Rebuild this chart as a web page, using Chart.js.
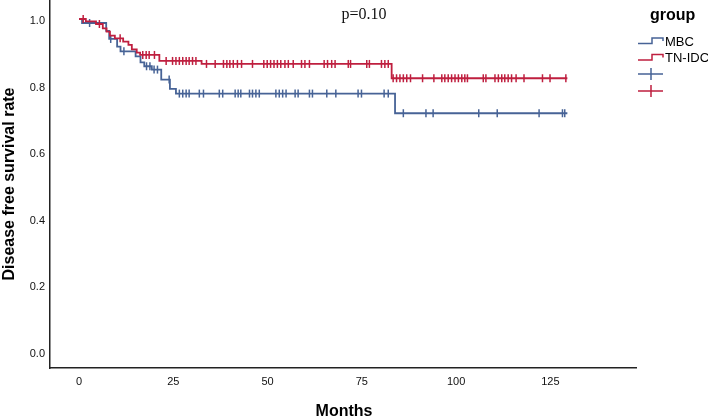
<!DOCTYPE html>
<html>
<head>
<meta charset="utf-8">
<script src="https://cdn.jsdelivr.net/npm/chart.js@4.4.1/dist/chart.umd.min.js"></script>
<style>
  html, body { margin: 0; padding: 0; background: #ffffff; }
  #wrap { width: 708px; height: 417px; position: relative; }
</style>
</head>
<body>
<div id="wrap"><canvas id="c" width="708" height="417"></canvas></div>
<script>
// ---- Data ----
const groupNames = ["MBC", "TN-IDC"];

const mbcTimes = [0, 0.8, 7.2, 8.0, 10.1, 11.0, 15.0, 16.3, 17.3, 19.3, 21.8, 24.1, 25.7, 83.8, 129.5];
const mbcSurv  = [1.0, 0.988, 0.964, 0.940, 0.917, 0.903, 0.888, 0.870, 0.858, 0.848, 0.818, 0.790, 0.776, 0.717, 0.717];
const mbcCensor = [2.8, 8.4, 11.9, 17.9, 18.8, 19.9, 20.8, 23.9, 26.6, 27.5, 28.4, 29.2, 31.9, 33.0, 37.2, 38.1,
  41.4, 42.2, 42.9, 45.2, 46.0, 46.9, 47.8, 52.2, 53.1, 54.0, 54.9, 57.3, 58.1, 61.1, 61.9, 65.7, 68.1,
  74.0, 74.9, 80.9, 82.0, 86.0, 92.0, 93.9, 106.0, 110.9, 122.0, 128.2, 128.8];

const tnTimes = [0, 1.8, 4.5, 6.3, 7.3, 8.2, 9.5, 11.7, 13.1, 14.0, 15.3, 16.2, 21.3, 32.5, 82.9, 129.5];
const tnSurv  = [1.0, 0.993, 0.985, 0.972, 0.962, 0.950, 0.942, 0.932, 0.922, 0.909, 0.899, 0.892, 0.874, 0.865, 0.822, 0.822];
const tnCensor = [1.1, 5.4, 10.9, 16.9, 17.8, 18.6, 20.0, 23.1, 24.8, 25.7, 26.6, 27.5, 28.4, 29.2, 30.1, 31.0,
  33.8, 36.1, 38.3, 39.2, 40.0, 40.9, 42.0, 43.1, 46.0, 49.0, 49.9, 50.8, 51.7, 52.6, 53.5, 54.6, 55.5, 56.8,
  59.0, 59.9, 61.1, 65.0, 65.9, 67.0, 67.9, 71.4, 72.0, 76.3, 77.0, 80.2, 81.1, 82.0, 83.3, 84.2, 85.1, 86.0,
  86.9, 87.9, 91.1, 94.1, 96.2, 97.0, 97.9, 98.8, 99.7, 100.6, 101.5, 102.3, 103.0, 107.2, 107.9, 110.3, 111.2,
  112.1, 112.9, 113.8, 114.7, 115.9, 118.0, 122.9, 124.9, 129.1];

const xTickValues = [0, 25, 50, 75, 100, 125];
const yTickValues = [0.0, 0.2, 0.4, 0.6, 0.8, 1.0];
const pText = "p=0.10";
const xTitle = "Months";
const yTitle = "Disease free survival rate";
const legendTitle = "group";

// ---- styling ----
const BLUE = "#476396";
const RED = "#bf1f3f";
const AXIS = "#222222";

// survival value at time t from a step curve
function survAt(times, surv, t) {
  let v = surv[0];
  for (let i = 0; i < times.length; i++) { if (times[i] <= t) v = surv[i]; }
  return v;
}
const toPts = (times, surv) => times.map((t, i) => ({ x: t, y: surv[i] }));
const censorPts = (cens, times, surv) => cens.map(t => ({ x: t, y: survAt(times, surv, t) }));

const overlay = {
  id: "overlay",
  afterDraw(chart) {
    const ctx = chart.ctx;
    ctx.save();
    // p-value
    ctx.fillStyle = "#111";
    ctx.font = "16px 'Liberation Serif', 'Times New Roman', serif";
    ctx.textAlign = "center";
    ctx.textBaseline = "middle";
    ctx.fillText(pText, 364, 15);

    // axis titles
    ctx.font = "bold 16px 'Liberation Sans', Arial, sans-serif";
    ctx.fillStyle = "#000";
    ctx.textAlign = "center";
    ctx.textBaseline = "alphabetic";
    ctx.fillText(xTitle, 344, 416);
    ctx.save();
    ctx.translate(14, 184);
    ctx.rotate(-Math.PI / 2);
    ctx.fillText(yTitle, 0, 0);
    ctx.restore();

    // legend
    ctx.textAlign = "left";
    ctx.textBaseline = "middle";
    ctx.font = "bold 16px 'Liberation Sans', Arial, sans-serif";
    ctx.fillStyle = "#000";
    ctx.fillText(legendTitle, 650, 16);

    ctx.font = "13px 'Liberation Sans', Arial, sans-serif";
    const cols = [BLUE, RED];
    const rows = [42, 58.5];
    for (let i = 0; i < 2; i++) {
      const y = rows[i];
      ctx.strokeStyle = cols[i];
      ctx.lineWidth = 1.5;
      ctx.beginPath();
      ctx.moveTo(638, y + 1.5);
      ctx.lineTo(652, y + 1.5);
      ctx.lineTo(652, y - 4);
      ctx.lineTo(663, y - 4);
      ctx.lineTo(663, y - 1);
      ctx.stroke();
      ctx.fillStyle = "#000";
      ctx.fillText(groupNames[i], 665, y);
    }
    const crossRows = [74, 91];
    for (let i = 0; i < 2; i++) {
      const y = crossRows[i];
      ctx.strokeStyle = cols[i];
      ctx.lineWidth = 1.5;
      ctx.beginPath();
      ctx.moveTo(638, y); ctx.lineTo(663, y);
      ctx.moveTo(651, y - 6); ctx.lineTo(651, y + 6);
      ctx.stroke();
    }
    ctx.restore();
  }
};

new Chart(document.getElementById("c"), {
  type: "scatter",
  data: {
    datasets: [
      { label: groupNames[1], data: toPts(tnTimes, tnSurv), showLine: true, stepped: true,
        borderColor: RED, borderWidth: 1.8, pointRadius: 0, fill: false, order: 1 },
      { label: groupNames[1] + " censored", data: censorPts(tnCensor, tnTimes, tnSurv), showLine: false,
        pointStyle: "line", rotation: 90, pointRadius: 4, borderColor: RED, borderWidth: 1.5, order: 1 },
      { label: groupNames[0], data: toPts(mbcTimes, mbcSurv), showLine: true, stepped: true,
        borderColor: BLUE, borderWidth: 1.8, pointRadius: 0, fill: false, order: 2 },
      { label: groupNames[0] + " censored", data: censorPts(mbcCensor, mbcTimes, mbcSurv), showLine: false,
        pointStyle: "line", rotation: 90, pointRadius: 4, borderColor: BLUE, borderWidth: 1.5, order: 2 }
    ]
  },
  options: {
    responsive: false,
    animation: false,
    devicePixelRatio: 1,
    layout: { autoPadding: false, padding: { left: 0, right: 72, top: 0, bottom: 0 } },
    plugins: { legend: { display: false }, tooltip: { enabled: false } },
    scales: {
      x: {
        type: "linear", min: -7.7, max: 147.7,
        grid: { display: false, drawTicks: false },
        border: { display: true, color: AXIS, width: 1.5 },
        afterBuildTicks: s => { s.ticks = xTickValues.map(v => ({ value: v })); },
        afterFit: s => { s.height = 49; s.paddingLeft = 0; s.paddingRight = 0; },
        ticks: { padding: 7, color: "#111", font: { family: "'Liberation Sans', Arial, sans-serif", size: 11 },
                 maxRotation: 0, callback: v => String(v) }
      },
      y: {
        type: "linear", min: -0.048, max: 1.057,
        grid: { display: false, drawTicks: false },
        border: { display: true, color: AXIS, width: 1.5 },
        afterBuildTicks: s => { s.ticks = yTickValues.map(v => ({ value: v })); },
        afterFit: s => { s.width = 50; s.paddingTop = 0; s.paddingBottom = 0; },
        ticks: { padding: 5, labelOffset: 2, color: "#111", font: { family: "'Liberation Sans', Arial, sans-serif", size: 11 },
                 callback: v => Number(v).toFixed(1) }
      }
    }
  },
  plugins: [overlay]
});
</script>
</body>
</html>
